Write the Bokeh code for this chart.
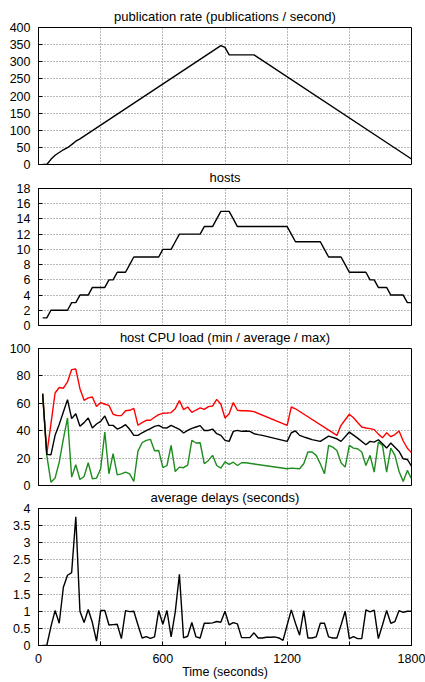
from bokeh.plotting import figure
from bokeh.layouts import column
from bokeh.models import FixedTicker, NumeralTickFormatter
from bokeh.embed import file_html
from bokeh.resources import INLINE

FONT = "Liberation Sans"

# ---- data ---------------------------------------------------------------
time_ticks = [0, 300, 600, 900, 1200, 1500, 1800]
time_blank = {300: "", 900: "", 1500: ""}

rate_ticks = [0, 50, 100, 150, 200, 250, 300, 350, 400]
rate_t = [20, 40, 60, 80, 100, 120, 140, 160, 180, 200, 880, 900, 920, 1040, 1800]
rate_v = [0, 0, 15, 27, 35, 43, 49, 58, 68, 75, 347, 342, 320, 320, 16]

hosts_ticks = [0, 2, 4, 6, 8, 10, 12, 14, 16, 18]
hosts_t = [20, 40, 60, 140, 160, 180, 200, 240, 260, 320, 340, 360, 380, 420, 440,
           460, 580, 600, 640, 660, 680, 780, 800, 840, 860, 880, 920, 940, 960,
           1200, 1220, 1240, 1360, 1380, 1400, 1460, 1480, 1500, 1580, 1600, 1620,
           1640, 1680, 1700, 1760, 1780, 1800]
hosts_v = [1, 1, 2, 2, 3, 3, 4, 4, 5, 5, 6, 6, 7, 7, 8,
           9, 9, 10, 10, 11, 12, 12, 13, 13, 14, 15, 15, 14, 13,
           13, 12, 11, 11, 10, 9, 9, 8, 7, 7, 6, 6,
           5, 5, 4, 4, 3, 3]

cpu_ticks = [0, 20, 40, 60, 80, 100]
cpu_max_t = [20, 40, 60, 80, 100, 120, 140, 160, 180, 200, 220, 240, 260, 280, 300,
             320, 340, 360, 380, 400, 420, 440, 460, 480, 500, 520, 540, 560, 580, 600,
             620, 640, 660, 680, 700, 720, 740, 760, 780, 800, 820, 840, 860, 880, 900,
             920, 940, 960, 980, 1000, 1020, 1040, 1200, 1220, 1240, 1440, 1460, 1480,
             1500, 1520, 1540, 1560, 1580, 1600, 1620, 1640, 1660, 1680, 1700, 1720,
             1740, 1760, 1780, 1800]
cpu_max_v = [67, 23, 45, 67.5, 71.5, 71, 75.6, 84.6, 85, 70.7, 62.2, 64, 64.6, 57.6, 60.5,
             59.3, 58.5, 52, 51, 51, 54.6, 54.9, 56.3, 44, 45.9, 47.6, 47.6, 49.8, 51.7, 52.7,
             52.9, 53.2, 56.1, 62, 55.4, 57.3, 53.4, 55.1, 56.6, 55.6, 57.6, 58, 62.9, 59.3, 49.3,
             52.4, 60.5, 54.9, 54.6, 54.6, 54.4, 53.9, 43.9, 57.3, 56, 36.6, 43.9, 48,
             52, 49.5, 46, 42.7, 42, 41.5, 40.8, 37.5, 34.8, 38.5, 35.6, 37.2,
             39.8, 32.5, 27.2, 24]

cpu_avg_t = [20, 40, 60, 80, 100, 120, 140, 160, 180, 200, 220, 240, 260, 280, 300,
             320, 340, 360, 380, 400, 420, 440, 460, 480, 500, 520, 540, 560, 580, 600,
             620, 640, 660, 680, 700, 720, 740, 760, 780, 800, 820, 840, 860, 880, 900,
             920, 940, 960, 980, 1000, 1020, 1040, 1060, 1080, 1200, 1220, 1240, 1260,
             1280, 1300, 1320, 1360, 1400, 1440, 1460, 1500, 1540, 1580, 1600, 1620,
             1640, 1660, 1680, 1700, 1720, 1740, 1760, 1780, 1800]
cpu_avg_v = [67, 22.7, 22.4, 36.6, 44.6, 53.7, 62.7, 48.8, 52.4, 43.2, 45.9, 49.3, 42, 44.9, 46.8,
             50.7, 43.9, 43.9, 41.2, 42.4, 44.4, 41, 36.6, 36.6, 38.5, 40, 41.5, 43.2, 43.9, 42.2,
             42, 43.9, 42.4, 41, 38.3, 40.2, 41.7, 42.7, 43.7, 40.2, 40.2, 41.2, 37.8, 36.6, 32.9,
             32.2, 39.5, 40.2, 39.5, 39.8, 39.5, 37.8, 37.1, 36.6, 32.2, 38.5, 39.8, 36.6,
             35.5, 34.5, 33.5, 32.2, 36.1, 34.1, 32.2, 39, 34.6, 29.8, 32.2, 31.7,
             33.4, 30.5, 27.3, 31, 28, 24.9, 19.5, 19, 14.1]

cpu_min_t = [20, 40, 60, 80, 100, 120, 140, 160, 180, 200, 220, 240, 260, 280, 300,
             320, 340, 360, 380, 400, 420, 440, 460, 480, 500, 520, 540, 560, 580, 600,
             620, 640, 660, 680, 700, 720, 740, 760, 780, 800, 820, 840, 860, 880, 900,
             920, 940, 960, 980, 1000, 1200, 1220, 1260, 1280, 1300, 1320, 1340, 1360,
             1380, 1400, 1420, 1440, 1460, 1480, 1500, 1520, 1540, 1560, 1580, 1600,
             1620, 1640, 1660, 1680, 1700, 1720, 1740, 1760, 1780, 1800]
cpu_min_v = [67, 22, 2.4, 5.4, 17, 34, 49.3, 6.1, 15.1, 4.4, 6.6, 16.6, 4.9, 5.4, 12.2,
             39, 8.5, 23.2, 7.8, 8.5, 9.8, 8.5, 2.9, 25.1, 31.2, 32.9, 33.7, 25.4, 25.6, 13,
             14.6, 29.3, 10.2, 13.4, 13, 14.9, 33, 31, 31.2, 15.9, 18.3, 22, 14.6, 12.7, 17.3,
             15.4, 17, 14.6, 16.6, 16.6, 12.2, 12.7, 12.2, 15.9, 24.4, 24.4, 22, 15.9,
             8.5, 29.3, 28, 25.6, 16.6, 13.4, 29.3, 27.3, 26.8, 24.4, 14.6, 22,
             9.8, 31.7, 29.3, 9.8, 27.3, 22, 10.2, 2.9, 11, 4.9]

delay_ticks = [0, 0.5, 1, 1.5, 2, 2.5, 3, 3.5, 4]
delay_t = list(range(20, 1801, 20))
delay_v = [0, 0, 0.55, 1.02, 0.65, 1.7, 2.05, 2.13, 3.76, 1.0,
           0.67, 1.05, 0.67, 0.13, 1.02, 1.02, 0.6, 0.61, 0.62, 0.2,
           1.02, 0.99, 1.0, 0.6, 0.22, 0.26, 0.21, 0.25, 1.02, 0.62,
           1.02, 0.25, 0.98, 2.08, 0.22, 0.27, 0.67, 0.25, 0.22, 0.65,
           0.65, 0.66, 0.7, 0.68, 1.0, 0.6, 0.67, 0.63, 0.23, 0.23,
           0.23, 0.37, 0.22, 0.22, 0.24, 0.24, 0.25, 0.22, 0.15, 0.6,
           1.04, 0.65, 0.3, 1.02, 0.22, 0.22, 0.25, 0.65, 0.65, 0.25,
           0.22, 0.22, 0.6, 1.0, 0.2, 0.26, 0.2, 0.2, 1.04, 0.98,
           1.03, 0.2, 0.6, 1.02, 0.65, 0.7, 1.02, 0.97, 1.0, 1.0]


# ---- figures ------------------------------------------------------------
# Panels are stacked with a small overlap so that the bottom "0" tick label of
# one panel and the title of the next one both have room on their own canvas.
def panel(title, height, top, bottom, y_end, y_ticks, overlap=0, show_time=False):
    styles = {"margin-top": f"-{overlap}px"} if overlap else {}
    p = figure(width=425, height=height, x_range=(0, 1800), y_range=(0, y_end),
               output_backend="svg", toolbar_location=None,
               min_border_left=38, min_border_right=14,
               min_border_top=top, min_border_bottom=bottom, styles=styles)
    p.background_fill_color = "white"
    p.border_fill_color = None
    p.outline_line_color = "black"
    p.outline_line_width = 1

    p.title.text = title
    p.title.align = "center"
    p.title.text_font = FONT
    p.title.text_font_size = "13px"
    p.title.text_font_style = "normal"
    p.title.text_color = "black"
    p.title.standoff = 7

    for g, ticks in ((p.xgrid, time_ticks), (p.ygrid, y_ticks)):
        g.ticker = FixedTicker(ticks=ticks)
        g.grid_line_color = "#707070"
        g.grid_line_dash = "1 2"
        g.grid_line_width = 1

    ya = p.yaxis[0]
    ya.ticker = FixedTicker(ticks=y_ticks)
    ya.formatter = NumeralTickFormatter(format="0.[0]")
    ya.major_label_text_font = FONT
    ya.major_label_text_font_size = "12.5px"
    ya.major_label_text_color = "black"
    ya.major_label_standoff = 8
    ya.major_tick_in = 4
    ya.major_tick_out = 0
    ya.minor_tick_line_color = None
    ya.axis_line_color = "black"

    xa = p.xaxis[0]
    xa.ticker = FixedTicker(ticks=time_ticks)
    if show_time:
        xa.major_label_overrides = time_blank
        xa.major_label_text_font = FONT
        xa.major_label_text_font_size = "12.5px"
        xa.major_label_text_color = "black"
        xa.major_label_standoff = 8
        xa.major_tick_in = 4
        xa.major_tick_out = 0
        xa.minor_tick_line_color = None
        xa.axis_line_color = "black"
        xa.axis_label = "Time (seconds)"
        xa.axis_label_text_font = FONT
        xa.axis_label_text_font_size = "12.5px"
        xa.axis_label_text_font_style = "normal"
        xa.axis_label_text_color = "black"
        xa.axis_label_standoff = -1
    else:
        xa.visible = False
    return p


p1 = panel("publication rate (publications / second)", 174, 27, 10, 400, rate_ticks)
p1.line(rate_t, rate_v, line_color="black", line_width=1.4)

p2 = panel("hosts", 171, 24, 10, 18, hosts_ticks, overlap=10)
p2.line(hosts_t, hosts_v, line_color="black", line_width=1.4)

p3 = panel("host CPU load (min / average / max)", 171, 24, 10, 100, cpu_ticks, overlap=11)
p3.line(cpu_max_t, cpu_max_v, line_color="#ff0000", line_width=1.4)
p3.line(cpu_min_t, cpu_min_v, line_color="#1e8c1e", line_width=1.4)
p3.line(cpu_avg_t, cpu_avg_v, line_color="black", line_width=1.4)

p4 = panel("average delays (seconds)", 198, 24, 37, 4, delay_ticks, overlap=11,
           show_time=True)
p4.line(delay_t, delay_v, line_color="black", line_width=1.4)

layout = column(p1, p2, p3, p4)

open("out.html", "w").write(file_html(layout, INLINE))
